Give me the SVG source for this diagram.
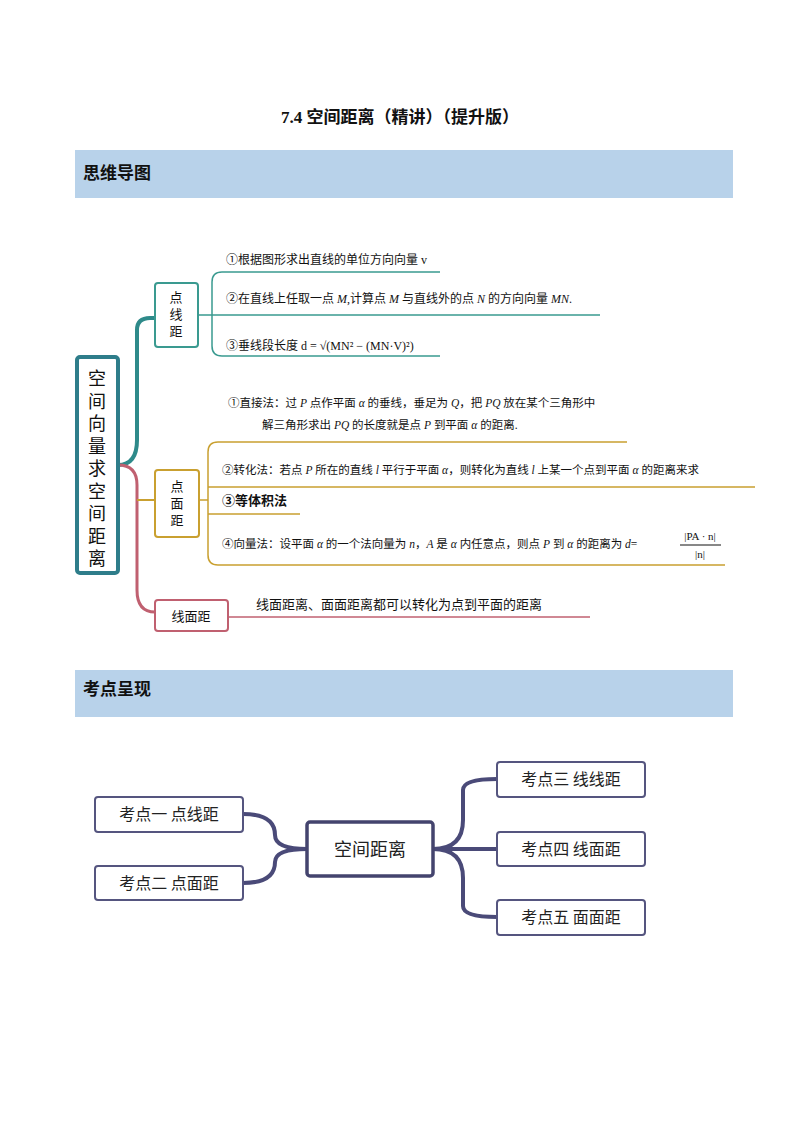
<svg xmlns="http://www.w3.org/2000/svg" width="800" height="1132" viewBox="0 0 800 1132">
<style>
.t{font-family:"Liberation Serif","Noto Sans CJK SC",serif;fill:#111}
.s{font-family:"Noto Sans CJK SC",sans-serif;fill:#222}
.hb{fill:#b8d2ea}
.ht{font-family:"Noto Sans CJK SC",sans-serif;font-weight:bold;font-size:17px;fill:#111}
.box{fill:#fff;stroke-width:2}
.kp{fill:#fff;stroke:#55557f;stroke-width:2}
</style>
<rect width="800" height="1132" fill="#fff"/>
<text x="400" y="123" text-anchor="middle" class="t" font-size="17" font-weight="bold">7.4  空间距离（精讲）（提升版）</text>
<rect class="hb" x="75" y="150" width="658" height="48"/>
<text x="83" y="179" class="ht">思维导图</text>
<rect class="hb" x="75" y="670" width="658" height="47"/>
<text x="83" y="695" class="ht">考点呈现</text>
<g id="connectors" fill="none">
<path d="M118,465 Q137,465 137,440 L137,330 Q137,318 150,318 L155,318" stroke="#2e8a8a" stroke-width="4"/>
<path d="M118,465 Q137,465 137,485 L137,590 Q137,612 155,612" stroke="#c06070" stroke-width="3"/>
<path d="M137,500 L155,500" stroke="#c9a030" stroke-width="2"/>
<path d="M198,315 L600,315 M212,315 L212,282 Q212,272 222,272 L440,272 M212,315 L212,346 Q212,356 222,356 L440,356" stroke="#3a9a90" stroke-width="1.5"/>
<path d="M199,500 L208,500 M208,500 L208,452 Q208,442 218,442 L627,442 M208,487 L755,487 M208,500 L208,514 L300,514 M208,500 L208,555 Q208,565 218,565 L725,565" stroke="#c9a030" stroke-width="1.5"/>
<path d="M228,617 L590,617" stroke="#c06070" stroke-width="1.5"/>
<g stroke="#4a4a78" stroke-width="4">
<path d="M243,814 Q275,814 275,835 Q275,849 307,849 M243,883 Q275,883 275,862 Q275,849 307,849"/>
<path d="M433,849 Q463,849 463,820 L463,790 Q463,779 497,779 M433,849 L497,849 M433,849 Q463,849 463,878 L463,906 Q463,917 497,917"/>
</g>
</g>
<g id="root">
<rect x="77" y="357" width="41" height="216" rx="3" fill="#fff" stroke="#2e7d8a" stroke-width="4"/>
<g class="t" font-size="18" text-anchor="middle">
<text x="97" y="385">空</text><text x="97" y="407.5">间</text><text x="97" y="430">向</text><text x="97" y="452.5">量</text><text x="97" y="475">求</text><text x="97" y="497.5">空</text><text x="97" y="520">间</text><text x="97" y="542.5">距</text><text x="97" y="565">离</text>
</g>
</g>
<g id="dxj">
<rect class="box" x="155" y="283" width="43" height="64" rx="3" stroke="#3a9a90"/>
<g class="t" font-size="13" text-anchor="middle"><text x="176" y="302">点</text><text x="176" y="319">线</text><text x="176" y="336">距</text></g>
<text x="226" y="264" class="t" font-size="12">①根据图形求出直线的单位方向向量 v</text>
<text x="226" y="303" class="t" font-size="12">②在直线上任取一点 <tspan font-style="italic">M</tspan>,计算点 <tspan font-style="italic">M</tspan> 与直线外的点 <tspan font-style="italic">N</tspan> 的方向向量 <tspan font-style="italic">MN</tspan>.</text>
<text x="226" y="350" class="t" font-size="12">③垂线段长度 d = √(MN² − (MN·V)²)</text>
</g>
<g id="dmj">
<rect class="box" x="155" y="470" width="44" height="67" rx="3" stroke="#c9a030"/>
<g class="t" font-size="13" text-anchor="middle"><text x="177" y="491">点</text><text x="177" y="508">面</text><text x="177" y="525">距</text></g>
<text x="228" y="407" class="t" font-size="11.5">①直接法：过 <tspan font-style="italic">P</tspan> 点作平面 <tspan font-style="italic">α</tspan> 的垂线，垂足为 <tspan font-style="italic">Q</tspan>，把 <tspan font-style="italic">PQ</tspan> 放在某个三角形中</text>
<text x="262" y="429" class="t" font-size="11.5">解三角形求出 <tspan font-style="italic">PQ</tspan> 的长度就是点 <tspan font-style="italic">P</tspan> 到平面 <tspan font-style="italic">α</tspan> 的距离.</text>
<text x="222" y="474" class="t" font-size="11.5">②转化法：若点 <tspan font-style="italic">P</tspan> 所在的直线 <tspan font-style="italic">l</tspan> 平行于平面 <tspan font-style="italic">α</tspan>，则转化为直线 <tspan font-style="italic">l</tspan> 上某一个点到平面 <tspan font-style="italic">α</tspan> 的距离来求</text>
<text x="222" y="505" class="t" font-size="13" font-weight="bold">③等体积法</text>
<text x="222" y="548" class="t" font-size="11.5">④向量法：设平面 <tspan font-style="italic">α</tspan> 的一个法向量为 <tspan font-style="italic">n</tspan>，<tspan font-style="italic">A</tspan> 是 <tspan font-style="italic">α</tspan> 内任意点，则点 <tspan font-style="italic">P</tspan> 到 <tspan font-style="italic">α</tspan> 的距离为 <tspan font-style="italic">d</tspan>=</text>
<text x="700" y="540" class="t" font-size="11" text-anchor="middle">|PA · n|</text>
<line x1="680" y1="545" x2="721" y2="545" stroke="#111" stroke-width="1"/>
<text x="700" y="558" class="t" font-size="11" text-anchor="middle">|n|</text>
</g>
<g id="xmj">
<rect class="box" x="155" y="600" width="73" height="31" rx="3" stroke="#c06070"/>
<text x="191" y="621" class="t" font-size="13" text-anchor="middle">线面距</text>
<text x="256" y="609" class="t" font-size="13">线面距离、面面距离都可以转化为点到平面的距离</text>
</g>
<g id="center">
<rect x="307" y="822" width="126" height="54" rx="3" fill="#fff" stroke="#44446e" stroke-width="3.5"/>
<text x="370" y="856" class="s" font-size="18" text-anchor="middle">空间距离</text>
</g>
<g id="k1"><rect class="kp" x="95" y="797" width="148" height="35" rx="3"/><text x="169" y="820" class="s" font-size="16" text-anchor="middle">考点一  点线距</text></g>
<g id="k2"><rect class="kp" x="95" y="866" width="148" height="34" rx="3"/><text x="169" y="889" class="s" font-size="16" text-anchor="middle">考点二  点面距</text></g>
<g id="k3"><rect class="kp" x="497" y="762" width="148" height="35" rx="3"/><text x="571" y="785" class="s" font-size="16" text-anchor="middle">考点三  线线距</text></g>
<g id="k4"><rect class="kp" x="497" y="832" width="148" height="34" rx="3"/><text x="571" y="855" class="s" font-size="16" text-anchor="middle">考点四  线面距</text></g>
<g id="k5"><rect class="kp" x="497" y="900" width="148" height="35" rx="3"/><text x="571" y="923" class="s" font-size="16" text-anchor="middle">考点五  面面距</text></g>
</svg>
